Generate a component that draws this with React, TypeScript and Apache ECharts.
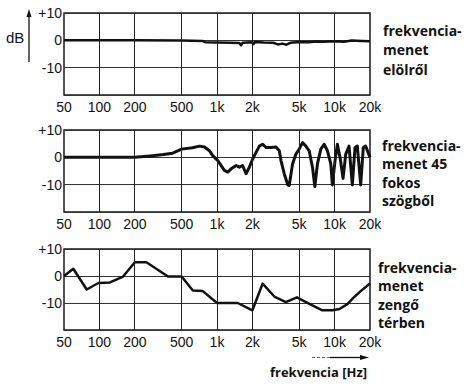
import React, { useEffect, useRef } from "react";
import * as echarts from "echarts";

// Tick labels of the log frequency axis
const tickFreqs = [50, 100, 200, 500, 1000, 2000, 5000, 10000, 20000];
const tickLabels = ["50", "100", "200", "500", "1k", "2k", "5k", "10k", "20k"];
const gridFreqs = [100, 200, 500, 1000, 2000, 5000, 10000];

// Panel 1: frequency response from the front
const frontFreq = [50, 200, 500, 750, 800, 1000, 1300, 1550, 1600, 1650, 2000, 2050, 2100, 2500, 3000, 3300, 3600, 3900, 4200, 5000, 6000, 7000, 8000, 10000, 12000, 14000, 17000, 20000];
const frontDb = [0, 0, -0.1, -0.2, -0.7, -0.8, -0.9, -1.0, -1.8, -0.9, -0.7, -1.3, -0.6, -0.8, -0.9, -1.5, -1.2, -1.6, -0.9, -0.6, -0.7, -0.4, -0.5, -0.3, -0.5, -0.1, -0.2, -0.3];

// Panel 2: frequency response at 45 degrees
const angleFreq = [50, 100, 200, 270, 350, 420, 500, 620, 710, 783, 863, 920, 1016, 1085, 1156, 1234, 1318, 1455, 1550, 1650, 1767, 1885, 2010, 2148, 2292, 2446, 2612, 2877, 3173, 3387, 3500, 3731, 4000, 4113, 4390, 4690, 5000, 5334, 5700, 6080, 6486, 6790, 7146, 7636, 8146, 8690, 9285, 9576, 10090, 10560, 11120, 11800, 12440, 13270, 14150, 14920, 15600, 16670, 17540, 18370, 20000];
const angleDb = [0, 0, 0, 0.5, 1, 1.5, 3, 3.5, 4.1, 3.8, 2.4, 0.6, -1.2, -3, -4.8, -5.4, -4.2, -3, -3.6, -3, -6, -3.6, -0.6, 1.8, 4.1, 4.8, 3.6, 3.6, 3.8, 2.4, -1.2, -6, -10.1, -10.3, -2.4, 1.2, 3, 5.4, 4.1, 2.4, -3.6, -10.7, -2.4, 3, 4.8, 2.4, -2.4, -10.1, -1.2, 4.8, 0, -7.7, 1.2, 4.1, -10.1, 3.6, 4.1, -10.1, 3.6, 4.1, 0];

// Panel 3: frequency response in a reverberant room
const roomFreq = [50, 60, 78, 98, 123, 159, 200, 251, 383, 500, 623, 757, 1000, 1500, 2000, 2445, 3070, 3855, 4780, 6285, 7870, 9576, 11000, 12830, 14500, 16670, 20000];
const roomDb = [0, 2.7, -5, -2.6, -2.4, -0.2, 5.1, 5.1, -0.2, -0.2, -5.4, -5.6, -10, -10, -12.7, -2.8, -7.6, -9.7, -7.9, -10.6, -12.7, -12.7, -12.2, -10.4, -8, -5.6, -2.8];

const panelLabels = [
  ["frekvencia-", "menet", "elölről"],
  ["frekvencia-", "menet 45", "fokos", "szögből"],
  ["frekvencia-", "menet", "zengő", "térben"],
];

const lg = (f: number) => Math.log10(f);

export default function App() {
  const ref = useRef<HTMLDivElement>(null);
  useEffect(() => {
    if (!ref.current) return;
    const chart = echarts.init(ref.current, null, { renderer: "svg" });
    const grids = [
      { left: 64, top: 13, width: 306, height: 82 },
      { left: 64, top: 130, width: 306, height: 82 },
      { left: 64, top: 249, width: 306, height: 81 },
    ].map((g) => ({ ...g, show: true, borderColor: "#1a1a1a", borderWidth: 1.5, backgroundColor: "transparent" }));

    const labelFont = { color: "#111", fontSize: 14, fontFamily: "Liberation Sans" };
    const xAxes = grids.map((_, i) => ({
      type: "value",
      gridIndex: i,
      min: lg(50),
      max: lg(20000),
      axisLine: { show: false },
      axisTick: { show: false },
      splitLine: { show: false },
      axisLabel: {
        ...labelFont,
        margin: 5,
        customValues: tickFreqs.map(lg),
        formatter: (v: number) => {
          let best = 0;
          let d = 1e9;
          tickFreqs.forEach((f, k) => {
            const dd = Math.abs(lg(f) - v);
            if (dd < d) { d = dd; best = k; }
          });
          return tickLabels[best];
        },
      },
    }));
    const yAxes = grids.map((_, i) => ({
      type: "value",
      gridIndex: i,
      min: -20,
      max: 10,
      interval: 10,
      axisLine: { show: false },
      axisTick: { show: false },
      splitLine: { show: true, lineStyle: { color: "#333", width: 1 } },
      axisLabel: {
        ...labelFont,
        margin: 2,
        formatter: (v: number) => (v === -20 ? "" : v > 0 ? "+" + v : String(v)),
      },
    }));
    const datasets = [
      [frontFreq, frontDb, 2.5],
      [angleFreq, angleDb, 3],
      [roomFreq, roomDb, 2.5],
    ] as [number[], number[], number][];
    const series = datasets.map(([fs, ds, w], i) => ({
      type: "line",
      xAxisIndex: i,
      yAxisIndex: i,
      showSymbol: false,
      data: fs.map((f, k) => [lg(f), ds[k]]),
      lineStyle: { color: "#111", width: w, join: "round" },
      markLine: {
        silent: true,
        symbol: ["none", "none"],
        label: { show: false },
        lineStyle: { color: "#222", type: "solid", width: 1 },
        data: gridFreqs.map((f) => ({ xAxis: lg(f) })),
      },
      z: 3,
    }));

    const rightText: any[] = [];
    const starts = [{ x: 383, y: 30, step: 19.5 }, { x: 382, y: 145, step: 18.5 }, { x: 378, y: 267, step: 18.5 }];
    panelLabels.forEach((lines, i) => {
      lines.forEach((t, k) => {
        rightText.push({
          type: "text",
          style: {
            text: t,
            x: starts[i].x,
            y: starts[i].y + k * starts[i].step,
            font: "bold 14px 'Open Sans'",
            fill: "#111",
            textAlign: "left",
            textVerticalAlign: "middle",
          },
        });
      });
    });

    chart.setOption({
      animation: false,
      backgroundColor: "#fff",
      grid: grids,
      xAxis: xAxes,
      yAxis: yAxes,
      series,
      graphic: [
        ...rightText,
        { type: "text", style: { text: "dB", x: 6, y: 37, font: "15px 'Liberation Sans'", fill: "#111", textAlign: "left", textVerticalAlign: "middle" } },
        { type: "line", shape: { x1: 29, y1: 62, x2: 29, y2: 16 }, style: { stroke: "#111", lineWidth: 1.3 } },
        { type: "polygon", shape: { points: [[29, 9], [26.5, 17], [31.5, 17]] }, style: { fill: "#111" } },
        { type: "line", shape: { x1: 312, y1: 357.5, x2: 330, y2: 357.5 }, style: { stroke: "#666", lineWidth: 1, lineDash: [3, 2] } },
        { type: "line", shape: { x1: 330, y1: 357.5, x2: 362, y2: 357.5 }, style: { stroke: "#111", lineWidth: 1.3 } },
        { type: "polygon", shape: { points: [[369, 357.5], [360, 355], [360, 360]] }, style: { fill: "#111" } },
        { type: "text", style: { text: "frekvencia [Hz]", x: 270, y: 372, font: "bold 13px 'Open Sans'", fill: "#111", textAlign: "left", textVerticalAlign: "middle" } },
      ],
    });
    return () => chart.dispose();
  }, []);
  return <div ref={ref} style={{ position: "fixed", left: 0, top: 0, width: 464, height: 391 }} />;
}
